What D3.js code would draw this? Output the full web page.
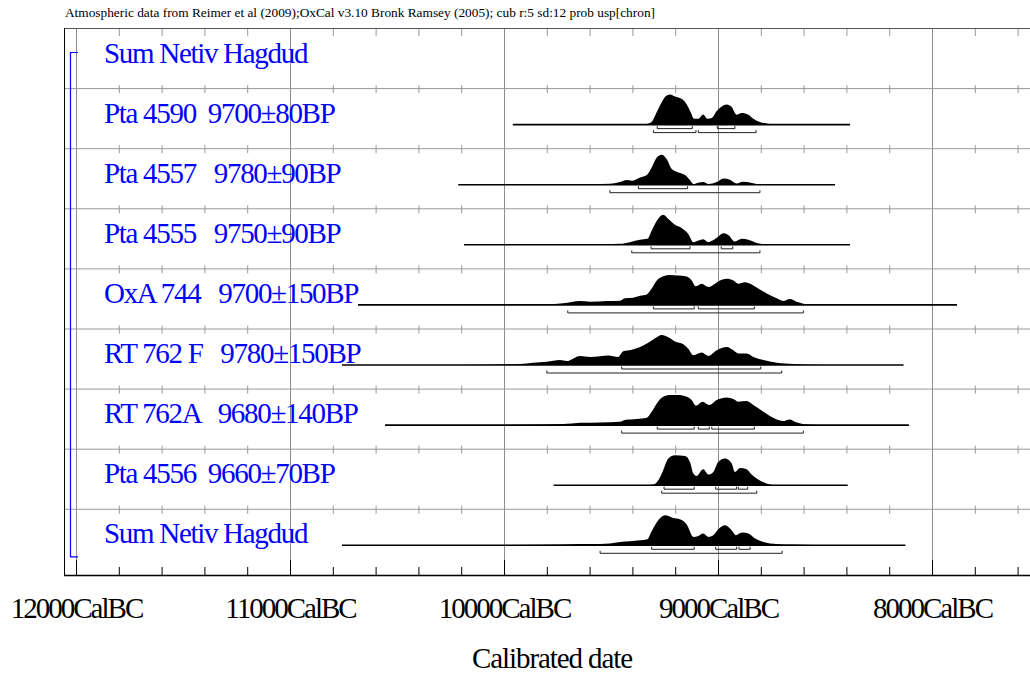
<!DOCTYPE html>
<html>
<head>
<meta charset="utf-8">
<script src="https://cdn.jsdelivr.net/npm/d3@7"></script>
<style>
  body { margin: 0; background: #fff; }
  svg { display: block; font-family: 'Liberation Serif', 'Times New Roman', serif; }
</style>
</head>
<body>
<div id="chart"></div>
<script>
// row labels, top to bottom
const labels = [
  'Sum Netiv Hagdud',
  'Pta 4590  9700±80BP',
  'Pta 4557   9780±90BP',
  'Pta 4555   9750±90BP',
  'OxA 744   9700±150BP',
  'RT 762 F   9780±150BP',
  'RT 762A   9680±140BP',
  'Pta 4556  9660±70BP',
  'Sum Netiv Hagdud'
];

// probability curves, [year BC, relative density]
const pta4590 = [[9360,0],[9333,0.7],[9310,2.7],[9286,12.7],[9263,22.7],[9240,29.3],[9224,30.3],[9201,28.3],[9170,26],[9146,20.3],[9128,12.7],[9112,6],[9092,6],[9069,10.3],[9050,6],[9029,6.7],[9006,13.7],[8983,18.3],[8959,20.3],[8936,17.7],[8913,10],[8889,11.7],[8858,10],[8835,6],[8804,2.7],[8772,1],[8749,0.2],[8720,0]];
const pta4557 = [[9900,0],[9678,0.3],[9505,1],[9450,3.3],[9427,4.7],[9403,4],[9364,7.3],[9333,9.7],[9310,17.3],[9286,27.3],[9263,30],[9240,25.7],[9216,15.7],[9185,12.3],[9154,9.7],[9131,4.7],[9115,0.7],[9092,2],[9069,2.7],[9045,0.7],[9006,2.7],[8975,6.3],[8944,5],[8913,1.3],[8882,3],[8850,2.3],[8819,0.7],[8772,0.2],[8700,0]];
const pta4555 = [[9800,0],[9600,0.3],[9458,1],[9411,2.7],[9364,5],[9330,6],[9310,14.3],[9286,24.3],[9256,30.3],[9232,26],[9201,20.3],[9170,17],[9139,11],[9115,2.7],[9092,4.3],[9069,5.7],[9045,2.7],[9006,7],[8975,11.7],[8952,10],[8921,3.3],[8889,6],[8858,5],[8819,1.7],[8772,0.3],[8720,0]];
const oxa744 = [[10100,0],[9832,0.3],[9723,1.7],[9645,4],[9598,3.3],[9520,4],[9458,4.3],[9435,6.7],[9396,7.3],[9364,9.3],[9333,10.7],[9310,16.7],[9286,25],[9256,29.3],[9224,30.7],[9186,30],[9146,29],[9123,25],[9104,19],[9076,21.7],[9045,18.3],[9014,21.7],[8991,25],[8959,26.7],[8928,25],[8905,21.7],[8874,23.3],[8850,21.7],[8812,16.7],[8772,11.7],[8726,6.7],[8695,4],[8664,6],[8632,3.3],[8601,1.3],[8555,0.3],[8450,0]];
const rt762f = [[10300,0],[10112,0.3],[9925,1],[9863,2.3],[9800,3.3],[9738,5],[9707,4],[9645,9.3],[9598,8.3],[9551,9],[9513,9.7],[9466,8.3],[9443,14],[9403,15.7],[9364,18.3],[9326,22.7],[9294,27.3],[9263,30.7],[9232,28.3],[9201,24],[9162,21.3],[9139,16.7],[9115,10],[9076,12.7],[9045,9.3],[9006,15],[8959,18.3],[8928,15],[8905,11.7],[8866,11.7],[8835,8.3],[8788,5],[8726,2.3],[8648,1],[8555,0.3],[8450,0]];
const rt762a = [[10100,0],[9900,0.3],[9723,1],[9645,2.3],[9551,2.7],[9458,3.3],[9435,5],[9380,6],[9333,7.3],[9310,13.3],[9286,21.7],[9256,28.3],[9224,30],[9186,30],[9146,28.3],[9123,25],[9103,19.3],[9072,23.3],[9041,20],[9006,25],[8959,27.7],[8928,26],[8905,23.3],[8866,24],[8835,20],[8788,13.3],[8742,7.3],[8695,4],[8667,5.7],[8632,2.7],[8586,0.7],[8539,0.2],[8450,0]];
const pta4556 = [[9340,0],[9302,0.7],[9279,5],[9256,15],[9232,26.7],[9201,30],[9154,29.3],[9131,23.3],[9115,11.7],[9100,9.3],[9069,16],[9045,10.7],[9022,13.3],[8999,23.3],[8967,26.7],[8936,21.7],[8921,13.3],[8897,17.3],[8866,16],[8843,10.7],[8812,5.7],[8780,2.3],[8742,0.3],[8700,0]];
const sumNetiv = [[10100,0],[9995,0.2],[9738,0.7],[9645,1.3],[9551,1.3],[9505,1.7],[9458,3.3],[9411,4],[9364,5],[9330,6],[9310,14],[9279,25],[9248,30],[9209,27.3],[9178,26],[9146,20.7],[9115,8.3],[9092,9.3],[9069,11.7],[9045,8.3],[9022,10],[8999,16],[8967,20],[8936,15],[8916,10],[8889,12.7],[8858,11.7],[8827,6.7],[8788,3.3],[8726,1.3],[8648,0.7],[8555,0.2],[8450,0]];

const densities = [null, pta4590, pta4557, pta4555, oxa744, rt762f, rt762a, pta4556, sumNetiv];

// extent of the plotted line for each row
const lineRanges = [null, [9959,8383], [10214,8453], [10187,8383], [10682,7883], [10757,8133], [10556,8108], [9768,8394], [10757,8124]];

// highest probability ranges
const hpd68 = [null,
  [[9284,9120],[9003,8921]],
  [[9372,9142]],
  [[9313,9131],[8985,8931]],
  [[9302,9111],[9092,8830]],
  [[9450,8800]],
  [[9284,9111],[9092,9041],[9029,8830]],
  [[9252,9111],[9011,8913],[8905,8861]],
  [[9310,9111],[9011,8913],[8902,8850]]
];
const hpd95 = [null,
  [[9302,9103],[9092,8822]],
  [[9505,8804]],
  [[9403,8804]],
  [[9702,8601]],
  [[9800,8702]],
  [[9450,8601]],
  [[9263,8819]],
  [[9551,8700]]
];

const tickYears = [12000, 11000, 10000, 9000, 8000];
const tickSuffix = 'CalBC';
const title = 'Atmospheric data from Reimer et al (2009);OxCal v3.10 Bronk Ramsey (2005); cub r:5 sd:12 prob usp[chron]';
const xTitle = 'Calibrated date';

const width = 1030, height = 673;
const frame = { left: 64, top: 28, right: 1045, bottom: 575 };
const rowH = 60.1;

const svg = d3.select('#chart')
  .append('svg')
  .attr('width', width)
  .attr('height', height);

const x = d3.scaleLinear()
  .domain([12000, 8000])
  .range([76, 932]);

const rowTop = i => frame.top + i * rowH;
const baseY = i => rowTop(i) + 36.5;

const minorYears = d3.range(12000, 7400, -200).filter(d => d % 1000 !== 0 && x(d) < frame.right);

// header text
svg.append('text')
  .attr('x', 65)
  .attr('y', 17)
  .attr('textLength', 590)
  .attr('lengthAdjust', 'spacingAndGlyphs')
  .style('font-size', '13.5px')
  .text(title);

// vertical grid lines
svg.append('g')
  .selectAll('line')
  .data(tickYears)
  .enter()
  .append('line')
  .attr('x1', d => x(d) + 0.5)
  .attr('x2', d => x(d) + 0.5)
  .attr('y1', frame.top)
  .attr('y2', frame.bottom)
  .style('stroke', '#8c8c8c')
  .style('stroke-width', 1);

// row separators with minor ticks
const seps = d3.range(1, labels.length);
svg.append('g')
  .selectAll('line')
  .data(seps)
  .enter()
  .append('line')
  .attr('x1', frame.left)
  .attr('x2', frame.right)
  .attr('y1', d => rowTop(d) + 0.5)
  .attr('y2', d => rowTop(d) + 0.5)
  .style('stroke', '#999')
  .style('stroke-width', 1);

seps.forEach(s => {
  svg.append('g')
    .selectAll('line')
    .data(minorYears)
    .enter()
    .append('line')
    .attr('x1', d => x(d) + 0.5)
    .attr('x2', d => x(d) + 0.5)
    .attr('y1', rowTop(s) - 3)
    .attr('y2', rowTop(s) + 5)
    .style('stroke', '#999');
});

svg.append('g')
  .selectAll('line')
  .data(minorYears)
  .enter()
  .append('line')
  .attr('x1', d => x(d) + 0.5)
  .attr('x2', d => x(d) + 0.5)
  .attr('y1', frame.top)
  .attr('y2', frame.top + 8)
  .style('stroke', '#999');

// frame
svg.append('line')
  .attr('x1', frame.left).attr('x2', frame.right)
  .attr('y1', frame.top + 0.5).attr('y2', frame.top + 0.5)
  .style('stroke', '#555');
svg.append('line')
  .attr('x1', frame.left + 0.5).attr('x2', frame.left + 0.5)
  .attr('y1', frame.top).attr('y2', frame.bottom)
  .style('stroke', '#000');

// bottom axis: minor ticks, major ticks with labels
svg.append('g')
  .attr('transform', 'translate(0,' + frame.bottom + ')')
  .call(d3.axisBottom(x).tickValues(minorYears).tickSizeInner(-8).tickSizeOuter(0).tickFormat(''))
  .call(g => g.select('.domain').remove());

const axis = svg.append('g')
  .attr('transform', 'translate(0,' + frame.bottom + ')')
  .call(d3.axisBottom(x).tickValues(tickYears).tickSizeInner(-15).tickSizeOuter(0).tickPadding(22)
    .tickFormat(d => d + tickSuffix));
axis.select('.domain').remove();
axis.selectAll('text')
  .style('font-family', "'Liberation Serif', 'Times New Roman', serif")
  .style('font-size', '29px')
  .style('letter-spacing', '-2px')
  .attr('fill', '#000');
axis.selectAll('line').style('stroke', '#000');

svg.append('line')
  .attr('x1', frame.left).attr('x2', frame.right)
  .attr('y1', frame.bottom + 0.5).attr('y2', frame.bottom + 0.5)
  .style('stroke', '#000')
  .style('stroke-width', 1.5);

svg.append('text')
  .attr('x', 552)
  .attr('y', 668)
  .attr('text-anchor', 'middle')
  .style('font-size', '29px')
  .style('letter-spacing', '-1.1px')
  .text(xTitle);

// group bracket
const bx = 70.5;
svg.append('path')
  .attr('d', 'M78,' + (rowTop(0) + 24.5) + 'H' + bx + 'V' + (rowTop(8) + 48) + 'H78')
  .style('fill', 'none')
  .style('stroke', '#0000ff')
  .style('stroke-width', 1.2);

// row labels
svg.append('g')
  .selectAll('text')
  .data(labels)
  .enter()
  .append('text')
  .attr('x', 104)
  .attr('y', (d, i) => baseY(i) - 2)
  .style('font-size', '29px')
  .style('letter-spacing', '-1.3px')
  .style('white-space', 'pre')
  .attr('fill', '#0000ff')
  .text(d => d);

// distributions
const bracket = d3.line();
densities.forEach((dens, i) => {
  if (!dens) return;
  const base = baseY(i);
  const h = d3.scaleLinear()
    .domain([0, d3.max(dens, d => d[1])])
    .range([base, base - 30]);
  const area = d3.area()
    .x(d => x(d[0]))
    .y0(base)
    .y1(d => h(d[1]))
    .curve(d3.curveMonotoneX);

  const g = svg.append('g');

  g.append('path')
    .datum(dens)
    .attr('d', area)
    .style('fill', '#000');

  g.append('line')
    .attr('x1', x(lineRanges[i][0]))
    .attr('x2', x(lineRanges[i][1]))
    .attr('y1', base)
    .attr('y2', base)
    .style('stroke', '#000')
    .style('stroke-width', 1.6);

  [[hpd68[i], 4], [hpd95[i], 8]].forEach(([ranges, off]) => {
    g.selectAll(null)
      .data(ranges)
      .enter()
      .append('path')
      .attr('d', r => bracket([
        [x(r[0]), base + off - 2.5],
        [x(r[0]), base + off],
        [x(r[1]), base + off],
        [x(r[1]), base + off - 2.5]
      ]))
      .style('fill', 'none')
      .style('stroke', '#222')
      .style('stroke-width', 1);
  });
});
</script>
</body>
</html>
